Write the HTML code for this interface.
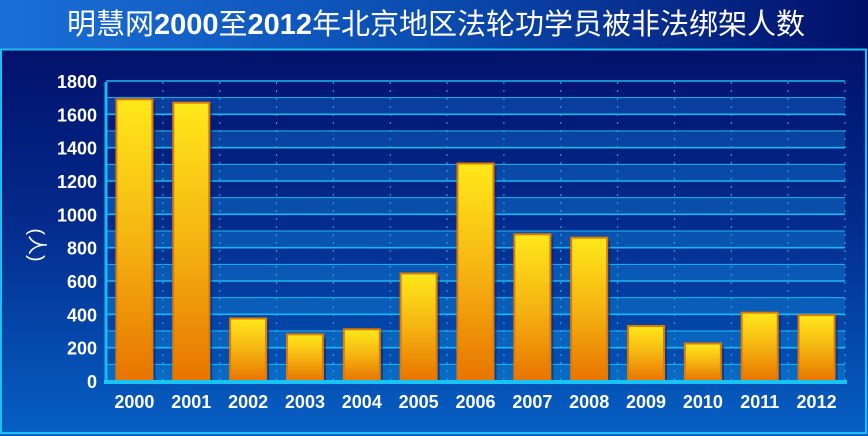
<!DOCTYPE html>
<html><head><meta charset="utf-8"><style>html,body{margin:0;padding:0;width:868px;height:436px;overflow:hidden}</style></head><body>
<svg width="868" height="436" xmlns="http://www.w3.org/2000/svg" font-family="Liberation Sans, Arial, sans-serif">
<defs>
<linearGradient id="tb" x1="0" y1="0" x2="1" y2="0"><stop offset="0" stop-color="#1a6fd6"/><stop offset="0.5" stop-color="#0b4cb0"/><stop offset="1" stop-color="#020f6a"/></linearGradient>
<linearGradient id="pn" x1="0" y1="0" x2="0" y2="1"><stop offset="0" stop-color="#010a62"/><stop offset="0.5" stop-color="#032a8c"/><stop offset="1" stop-color="#0660c4"/></linearGradient>
<linearGradient id="bar" x1="0" y1="0" x2="0" y2="1"><stop offset="0" stop-color="#ffe81a"/><stop offset="0.5" stop-color="#f5b412"/><stop offset="1" stop-color="#e87400"/></linearGradient>
<linearGradient id="light" gradientUnits="userSpaceOnUse" x1="0" y1="82" x2="0" y2="381"><stop offset="0" stop-color="#0a3a9a"/><stop offset="1" stop-color="#0a6ac4"/></linearGradient>
</defs>
<rect width="868" height="436" fill="url(#pn)"/>
<rect width="868" height="49" fill="url(#tb)"/>
<rect x="1" y="49.5" width="865" height="383.5" fill="none" stroke="#1cc0f0" stroke-width="2"/>
<text x="436" y="34" text-anchor="middle" fill="#fff" font-size="29" font-family="Liberation Sans, Noto Sans CJK SC, sans-serif"><tspan>明慧网</tspan><tspan font-weight="bold">2000</tspan><tspan>至</tspan><tspan font-weight="bold">2012</tspan><tspan>年北京地区法轮功学员被非法绑架人数</tspan></text>
<g fill="url(#light)">
<rect x="106" y="364.33" width="739" height="16.67"/>
<rect x="106" y="331" width="739" height="16.67"/>
<rect x="106" y="297.67" width="739" height="16.67"/>
<rect x="106" y="264.33" width="739" height="16.67"/>
<rect x="106" y="231" width="739" height="16.67"/>
<rect x="106" y="197.67" width="739" height="16.67"/>
<rect x="106" y="164.33" width="739" height="16.67"/>
<rect x="106" y="131" width="739" height="16.67"/>
<rect x="106" y="97.67" width="739" height="16.67"/>
</g>
<g stroke="#1ab8ee">
<line x1="106" x2="845" y1="364.33" y2="364.33"/>
<line x1="106" x2="845" y1="347.67" y2="347.67" stroke-width="1.6"/>
<line x1="106" x2="845" y1="331" y2="331"/>
<line x1="106" x2="845" y1="314.33" y2="314.33" stroke-width="1.6"/>
<line x1="106" x2="845" y1="297.67" y2="297.67"/>
<line x1="106" x2="845" y1="281" y2="281" stroke-width="1.6"/>
<line x1="106" x2="845" y1="264.33" y2="264.33"/>
<line x1="106" x2="845" y1="247.67" y2="247.67" stroke-width="1.6"/>
<line x1="106" x2="845" y1="231" y2="231"/>
<line x1="106" x2="845" y1="214.33" y2="214.33" stroke-width="1.6"/>
<line x1="106" x2="845" y1="197.67" y2="197.67"/>
<line x1="106" x2="845" y1="181" y2="181" stroke-width="1.6"/>
<line x1="106" x2="845" y1="164.33" y2="164.33"/>
<line x1="106" x2="845" y1="147.67" y2="147.67" stroke-width="1.6"/>
<line x1="106" x2="845" y1="131" y2="131"/>
<line x1="106" x2="845" y1="114.33" y2="114.33" stroke-width="1.6"/>
<line x1="106" x2="845" y1="97.67" y2="97.67"/>
<line x1="106" x2="845" y1="81" y2="81" stroke-width="1.6"/>
</g>
<g stroke="#1ab8ee" stroke-dasharray="2,6">
<line x1="162.85" x2="162.85" y1="82" y2="381"/>
<line x1="219.69" x2="219.69" y1="82" y2="381"/>
<line x1="276.54" x2="276.54" y1="82" y2="381"/>
<line x1="333.38" x2="333.38" y1="82" y2="381"/>
<line x1="390.23" x2="390.23" y1="82" y2="381"/>
<line x1="447.08" x2="447.08" y1="82" y2="381"/>
<line x1="503.92" x2="503.92" y1="82" y2="381"/>
<line x1="560.77" x2="560.77" y1="82" y2="381"/>
<line x1="617.62" x2="617.62" y1="82" y2="381"/>
<line x1="674.46" x2="674.46" y1="82" y2="381"/>
<line x1="731.31" x2="731.31" y1="82" y2="381"/>
<line x1="788.15" x2="788.15" y1="82" y2="381"/>
<line x1="845" x2="845" y1="82" y2="381"/>
</g>
<g fill="#021c6a" opacity="0.5">
<rect x="119.42" y="102.33" width="36" height="278.67"/>
<rect x="176.27" y="105.67" width="36" height="275.33"/>
<rect x="233.12" y="321.5" width="36" height="59.5"/>
<rect x="289.96" y="337.33" width="36" height="43.67"/>
<rect x="346.81" y="332.33" width="36" height="48.67"/>
<rect x="403.65" y="276.5" width="36" height="104.5"/>
<rect x="460.5" y="166.5" width="36" height="214.5"/>
<rect x="517.35" y="237.33" width="36" height="143.67"/>
<rect x="574.19" y="240.67" width="36" height="140.33"/>
<rect x="631.04" y="329" width="36" height="52"/>
<rect x="687.88" y="346.5" width="36" height="34.5"/>
<rect x="744.73" y="315.67" width="36" height="65.33"/>
<rect x="801.58" y="318.17" width="36" height="62.83"/>
</g>
<g fill="url(#bar)" stroke="#e07a00" stroke-width="2">
<rect x="116.42" y="99.33" width="36" height="281.67"/>
<rect x="173.27" y="102.67" width="36" height="278.33"/>
<rect x="230.12" y="318.5" width="36" height="62.5"/>
<rect x="286.96" y="334.33" width="36" height="46.67"/>
<rect x="343.81" y="329.33" width="36" height="51.67"/>
<rect x="400.65" y="273.5" width="36" height="107.5"/>
<rect x="457.5" y="163.5" width="36" height="217.5"/>
<rect x="514.35" y="234.33" width="36" height="146.67"/>
<rect x="571.19" y="237.67" width="36" height="143.33"/>
<rect x="628.04" y="326" width="36" height="55"/>
<rect x="684.88" y="343.5" width="36" height="37.5"/>
<rect x="741.73" y="312.67" width="36" height="68.33"/>
<rect x="798.58" y="315.17" width="36" height="65.83"/>
</g>
<line x1="106" x2="106" y1="82" y2="383" stroke="#1ab8ee" stroke-width="3"/>
<line x1="104" x2="847" y1="382" y2="382" stroke="#18c4f4" stroke-width="4"/>
<g fill="#fff" font-size="18" font-weight="bold" text-anchor="middle">
<text x="134.42" y="408">2000</text><text x="191.27" y="408">2001</text><text x="248.12" y="408">2002</text><text x="304.96" y="408">2003</text><text x="361.81" y="408">2004</text><text x="418.65" y="408">2005</text><text x="475.5" y="408">2006</text><text x="532.35" y="408">2007</text><text x="589.19" y="408">2008</text><text x="646.04" y="408">2009</text><text x="702.88" y="408">2010</text><text x="759.73" y="408">2011</text><text x="816.58" y="408">2012</text>
</g>
<g fill="#fff" font-size="18" font-weight="bold" text-anchor="end">
<text x="97" y="388">0</text><text x="97" y="354.67">200</text><text x="97" y="321.33">400</text><text x="97" y="288">600</text><text x="97" y="254.67">800</text><text x="97" y="221.33">1000</text><text x="97" y="188">1200</text><text x="97" y="154.67">1400</text><text x="97" y="121.33">1600</text><text x="97" y="88">1800</text>
</g>
<text transform="translate(30,245) rotate(90)" text-anchor="middle" fill="#fff" font-size="20" font-family="Liberation Sans, Noto Sans CJK SC, sans-serif">(人)</text>
</svg>
</body></html>
